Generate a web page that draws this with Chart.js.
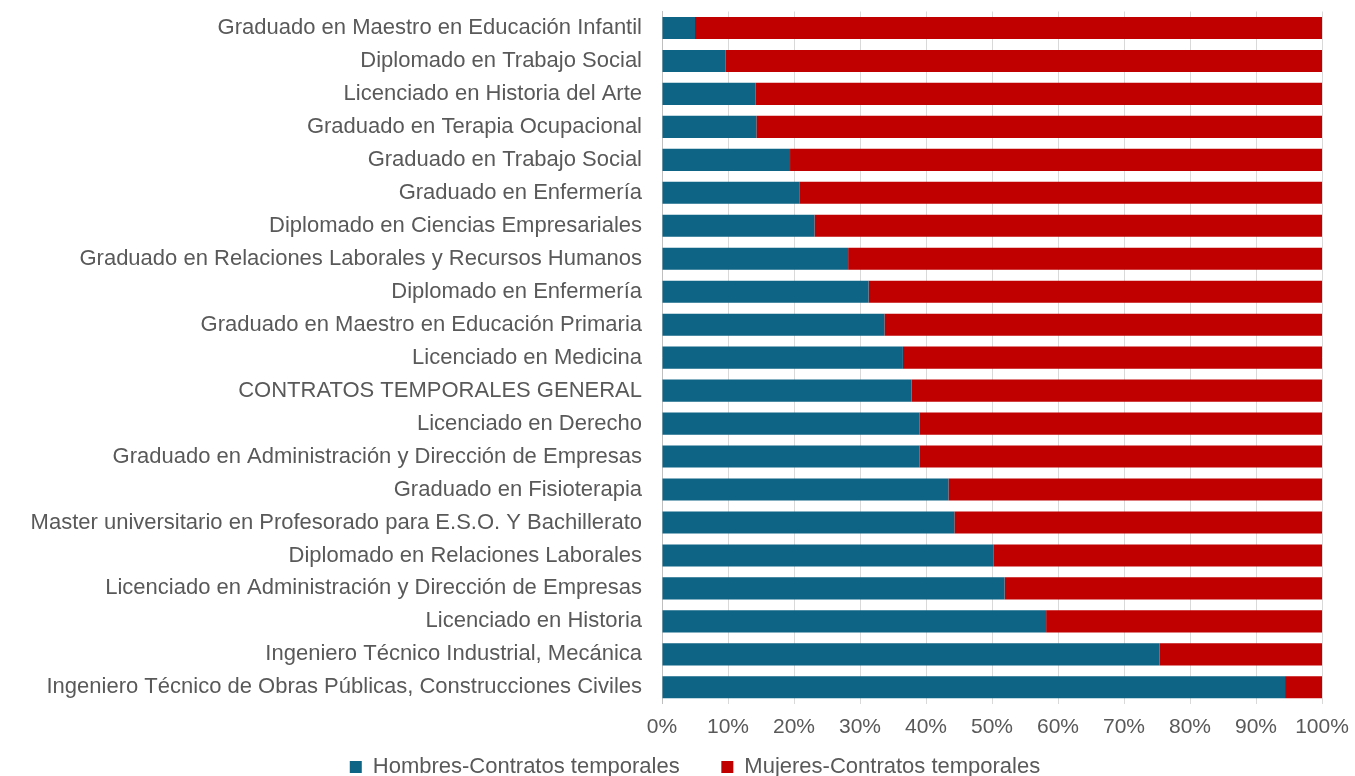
<!DOCTYPE html>
<html>
<head>
<meta charset="utf-8">
<script src="https://cdn.jsdelivr.net/npm/chart.js@4/dist/chart.umd.min.js"></script>
<style>
  html, body { margin: 0; padding: 0; background: #ffffff; }
  #wrap { width: 1355px; height: 776px; }
</style>
</head>
<body>
<div id="wrap"><canvas id="barChart" width="1355" height="776"></canvas></div>
<script>
const titulaciones = [
  'Graduado en Maestro en Educación Infantil',
  'Diplomado en Trabajo Social',
  'Licenciado en Historia del Arte',
  'Graduado en Terapia Ocupacional',
  'Graduado en Trabajo Social',
  'Graduado en Enfermería',
  'Diplomado en Ciencias Empresariales',
  'Graduado en Relaciones Laborales y Recursos Humanos',
  'Diplomado en Enfermería',
  'Graduado en Maestro en Educación Primaria',
  'Licenciado en Medicina',
  'CONTRATOS TEMPORALES GENERAL',
  'Licenciado en Derecho',
  'Graduado en Administración y Dirección de Empresas',
  'Graduado en Fisioterapia',
  'Master universitario en Profesorado para E.S.O. Y Bachillerato',
  'Diplomado en Relaciones Laborales',
  'Licenciado en Administración y Dirección de Empresas',
  'Licenciado en Historia',
  'Ingeniero Técnico Industrial, Mecánica',
  'Ingeniero Técnico de Obras Públicas, Construcciones Civiles'
];

const hombres = [5.0, 9.6, 14.2, 14.3, 19.4, 20.8, 23.1, 28.2, 31.3, 33.7, 36.5,
                 37.8, 39.0, 39.0, 43.4, 44.3, 50.2, 51.9, 58.2, 75.4, 94.4];
const mujeres = [95.0, 90.4, 85.8, 85.7, 80.6, 79.2, 76.9, 71.8, 68.7, 66.3, 63.5,
                 62.2, 61.0, 61.0, 56.6, 55.7, 49.8, 48.1, 41.8, 24.6, 5.6];

const ticksX = [0, 10, 20, 30, 40, 50, 60, 70, 80, 90, 100];

const familia = 'Liberation Sans, Arial, sans-serif';
const gris = '#595959';

// desplaza la leyenda a la derecha (en el original no está centrada en el lienzo)
const moverLeyenda = {
  id: 'moverLeyenda',
  afterLayout(chart) {
    chart.legend.left += 34;
    chart.legend.right += 34;
  }
};

const ctx = document.getElementById('barChart').getContext('2d');
const barChart = new Chart(ctx, {
  type: 'bar',
  data: {
    labels: titulaciones,
    datasets: [
      {
        label: 'Hombres-Contratos temporales',
        data: hombres,
        backgroundColor: '#0e6485',
        borderWidth: 0,
        barPercentage: 0.67,
        categoryPercentage: 1
      },
      {
        label: 'Mujeres-Contratos temporales',
        data: mujeres,
        backgroundColor: '#c00000',
        borderWidth: 0,
        barPercentage: 0.67,
        categoryPercentage: 1
      }
    ]
  },
  plugins: [moverLeyenda],
  options: {
    indexAxis: 'y',
    responsive: false,
    animation: false,
    layout: { padding: { top: 11.5, right: 33, left: 0, bottom: -12 } },
    scales: {
      x: {
        stacked: true,
        min: 0,
        max: 100,
        afterBuildTicks: function (scale) {
          scale.ticks = ticksX.map(v => ({ value: v }));
        },
        afterFit: function (scale) {
          scale.paddingLeft = 0;
          scale.paddingRight = 0;
        },
        grid: { color: '#d9d9d9', lineWidth: 1, drawTicks: false },
        border: { display: false },
        ticks: {
          color: gris,
          font: { family: familia, size: 21 },
          padding: 11,
          callback: v => v + '%'
        }
      },
      y: {
        stacked: true,
        afterFit: function (scale) {
          // el eje ocupa hasta x=662, sin margen extra arriba/abajo
          scale.width = 662;
          scale.paddingTop = 0;
          scale.paddingBottom = 0;
        },
        grid: { display: false },
        border: { display: true, color: '#bfbfbf', width: 1 },
        ticks: {
          color: gris,
          font: { family: familia, size: 22 },
          padding: 12,
          autoSkip: false
        }
      }
    },
    plugins: {
      legend: {
        position: 'bottom',
        labels: {
          color: gris,
          font: { family: familia, size: 22 },
          boxWidth: 12,
          boxHeight: 12,
          padding: 5,
          generateLabels: function (chart) {
            const items = Chart.defaults.plugins.legend.labels.generateLabels(chart);
            items[0].text += '\u00a0\u00a0\u00a0\u00a0\u00a0\u00a0';
            return items;
          }
        }
      },
      tooltip: { enabled: false }
    }
  }
});
</script>
</body>
</html>
